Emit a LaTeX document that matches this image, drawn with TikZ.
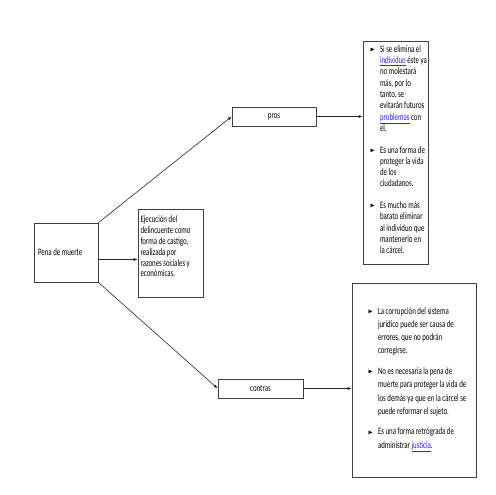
\documentclass[tikz,border=0pt]{standalone}
\usepackage{amssymb}
\usepackage{graphicx}
\usepackage{fontspec}
\setmainfont{Carlito}[FakeStretch=0.7]
\usetikzlibrary{arrows.meta}

\definecolor{linkblue}{RGB}{40,40,220}
\newcommand{\lnk}[1]{\textcolor{linkblue}{\underline{#1}}}
\newcommand{\bul}{\par\noindent\llap{\raisebox{0.8pt}{\scalebox{0.65}{$\blacktriangleright$}}\hspace{5pt}}}

\begin{document}
\begin{tikzpicture}[x=1pt, y=-1pt,
    box/.style={draw=black!75, line width=0.6pt, inner sep=0pt},
    conn/.style={-{Latex[length=4pt,width=3pt]}, black!85, line width=0.6pt},
    font=\fontsize{9.8pt}{11.3pt}\selectfont]
    \useasboundingbox (0,0) rectangle (495,495);

    % Nodes
    \node[box] (pena) at (66,252.5) {\parbox[c][59pt][c]{64pt}{\hspace*{4pt}Pena de muerte}};

    \node[box] (defin) at (170.5,253) {\parbox[c][88pt][t]{65pt}{\raggedright\lineskiplimit=-20pt
        \fontsize{9.8pt}{10.8pt}\selectfont\vspace*{7pt}\leftskip=2.5pt
        Ejecución del\\ delincuente como\\ forma de castigo,\\ realizada por\\ razones sociales y\\ económicas.}};

    \node[box, minimum width=84pt, minimum height=19pt] (pros) at (274,116.5) {pros};
    \node[box, minimum width=85pt, minimum height=19pt] (contras) at (260.5,388.5) {contras};

    % Lists
    \node[box] (prolist) at (395.5,152.5) {\parbox[c][223pt][t]{65pt}{\raggedright\lineskiplimit=-20pt
        \fontsize{9.8pt}{11.3pt}\selectfont\parskip=10.4pt\leftskip=17pt\vspace*{-6pt}
        \bul Si se elimina el\\ \lnk{individuo} éste ya\\ no molestará\\ más, por lo\\ tanto, se\\ evitarán futuros\\ \lnk{problemas} con\\ el.
        \bul Es una forma de\\ proteger la vida\\ de los\\ ciudadanos.
        \bul Es mucho más\\ barato eliminar\\ al individuo que\\ mantenerlo en\\ la cárcel.}};

    \node[box] (conlist) at (414,380) {\parbox[c][194pt][t]{124pt}{\raggedright\lineskiplimit=-20pt
        \fontsize{9.8pt}{13.3pt}\selectfont\parskip=7.2pt\leftskip=26pt\vspace*{17pt}
        \bul La corrupción del sistema\\ jurídico puede ser causa de\\ errores, que no podrán\\ corregirse.
        \bul No es necesaria la pena de\\ muerte para proteger la vida de\\ los demás ya que en la cárcel se\\ puede reformar el sujeto.
        \bul Es una forma retrógrada de\\ administrar \lnk{justicia}.}};

    % Arrows
    \draw[conn] ([yshift=-7pt]pena.east) -- ([yshift=-7pt]pena.east -| defin.west);
    \draw[conn] (pena.north east) -- (pros.west);
    \draw[conn] (pena.south east) -- (contras.west);
    \draw[conn] (pros.east) -- (pros.east -| prolist.west);
    \draw[conn] (contras.east) -- (contras.east -| conlist.west);
\end{tikzpicture}
\end{document}
